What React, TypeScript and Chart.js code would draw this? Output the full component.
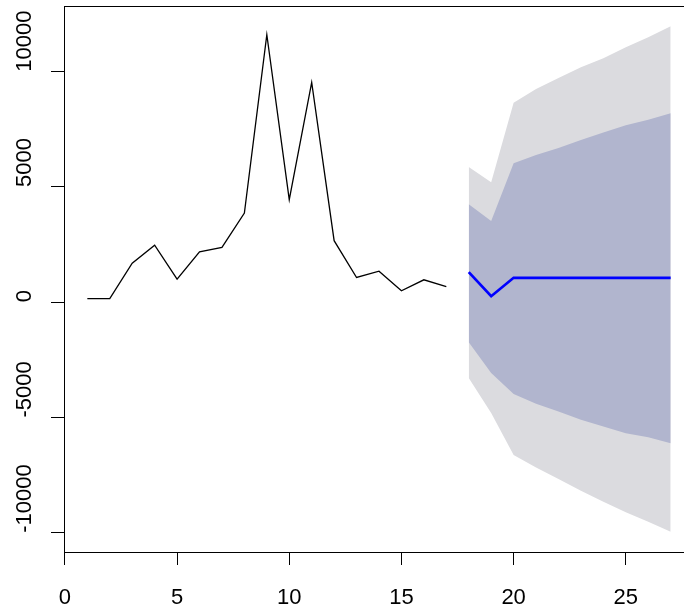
import React, { useEffect, useRef } from "react";
import { Chart, registerables } from "chart.js";

Chart.register(...registerables);

const historyX = [1, 2, 3, 4, 5, 6, 7, 8, 9, 10, 11, 12, 13, 14, 15, 16, 17];
const historyValues = [161, 161, 1696, 2478, 1000, 2191, 2378, 3870, 11609, 4452, 9539, 2670, 1074, 1348, 496, 974, 683];
const forecastX = [18, 19, 20, 21, 22, 23, 24, 25, 26, 27];
const forecastMean = [1304, 261, 1061, 1061, 1061, 1061, 1061, 1061, 1061, 1061];
const upper80 = [4248, 3522, 6030, 6391, 6696, 7043, 7365, 7683, 7913, 8204];
const lower80 = [-1739, -3070, -3983, -4404, -4739, -5100, -5391, -5678, -5852, -6113];
const upper95 = [5870, 5204, 8652, 9248, 9726, 10191, 10583, 11061, 11496, 11974];
const lower95 = [-3287, -4809, -6622, -7174, -7665, -8174, -8652, -9113, -9522, -9957];
const xTicks = [0, 5, 10, 15, 20, 25];
const yTicks = [-10000, -5000, 0, 5000, 10000];
const yTickLabels = ["-10000", "-5000", "0", "5000", "10000"];

const FONT = "'Liberation Sans', Arial, sans-serif";

function pts(xs: number[], ys: number[]) {
  return xs.map((x, i) => ({ x, y: ys[i] }));
}

export default function App() {
  const ref = useRef<HTMLCanvasElement | null>(null);

  useEffect(() => {
    document.body.style.margin = "0";
    document.body.style.overflow = "hidden";
    const canvas = ref.current;
    if (!canvas) return;

    const allX = [...historyX, ...forecastX];
    const allY = [...historyValues, ...upper95, ...lower95, ...forecastMean];
    const xMinD = Math.min(...allX), xMaxD = Math.max(...allX);
    const yMinD = Math.min(...allY), yMaxD = Math.max(...allY);
    const xPad = (xMaxD - xMinD) * 0.04;
    const yPad = (yMaxD - yMinD) * 0.04;

    const boxPlugin = {
      id: "boxAndLabels",
      afterDraw(chart: any) {
        const { ctx, chartArea } = chart;
        ctx.save();
        ctx.strokeStyle = "#000";
        ctx.lineWidth = 1;
        ctx.strokeRect(chartArea.left + 0.5, chartArea.top + 0.5, chartArea.right - chartArea.left, chartArea.bottom - chartArea.top);
        const ys = chart.scales.y;
        ctx.fillStyle = "#000";
        ctx.font = `22px ${FONT}`;
        ctx.textAlign = "left";
        ctx.textBaseline = "middle";
        yTicks.forEach((v, i) => {
          const py = ys.getPixelForValue(v);
          ctx.save();
          ctx.translate(25, py);
          ctx.rotate(-Math.PI / 2);
          ctx.fillText(yTickLabels[i], 0, 0);
          ctx.restore();
        });
        ctx.restore();
      },
    };

    const chart = new Chart(canvas, {
      type: "line",
      data: {
        datasets: [
          {
            label: "history",
            data: pts(historyX, historyValues),
            borderColor: "#000000",
            borderWidth: 1.3,
            pointRadius: 0,
            fill: false,
            order: 0,
          },
          {
            label: "mean",
            data: pts(forecastX, forecastMean),
            borderColor: "#0000FF",
            borderWidth: 2.7,
            pointRadius: 0,
            fill: false,
            order: 1,
          },
          {
            label: "lower80",
            data: pts(forecastX, lower80),
            borderWidth: 0,
            borderColor: "rgba(0,0,0,0)",
            pointRadius: 0,
            fill: false,
            order: 3,
          },
          {
            label: "upper80",
            data: pts(forecastX, upper80),
            borderWidth: 0,
            borderColor: "rgba(0,0,0,0)",
            backgroundColor: "#B1B5CE",
            pointRadius: 0,
            fill: "-1",
            order: 2,
          },
          {
            label: "lower95",
            data: pts(forecastX, lower95),
            borderWidth: 0,
            borderColor: "rgba(0,0,0,0)",
            pointRadius: 0,
            fill: false,
            order: 5,
          },
          {
            label: "upper95",
            data: pts(forecastX, upper95),
            borderWidth: 0,
            borderColor: "rgba(0,0,0,0)",
            backgroundColor: "#DBDBDF",
            pointRadius: 0,
            fill: "-1",
            order: 4,
          },
        ],
      },
      options: {
        animation: false,
        responsive: false,
        maintainAspectRatio: false,
        layout: { padding: { left: 0, top: 6, right: 26, bottom: 0 } },
        plugins: { legend: { display: false }, tooltip: { enabled: false } },
        elements: { line: { tension: 0 } },
        scales: {
          x: {
            type: "linear",
            min: xMinD - xPad,
            max: xMaxD + xPad,
            afterBuildTicks: (s: any) => {
              s.ticks = xTicks.map((v) => ({ value: v }));
            },
            afterFit: (s: any) => {
              s.height = 58;
            },
            grid: { display: true, drawOnChartArea: false, drawTicks: true, tickLength: 13, color: "#000", lineWidth: 1 },
            border: { display: true, color: "#000", width: 1 },
            ticks: {
              autoSkip: false,
              maxRotation: 0,
              minRotation: 0,
              padding: 20,
              color: "#000",
              font: { family: FONT, size: 22 },
              callback: (v: any) => String(v),
            },
          },
          y: {
            type: "linear",
            min: yMinD - yPad,
            max: yMaxD + yPad,
            afterBuildTicks: (s: any) => {
              s.ticks = yTicks.map((v) => ({ value: v }));
            },
            afterFit: (s: any) => {
              s.width = 64;
            },
            grid: { display: true, drawOnChartArea: false, drawTicks: true, tickLength: 13, color: "#000", lineWidth: 1 },
            border: { display: true, color: "#000", width: 1 },
            ticks: { display: false },
          },
        },
      },
      plugins: [boxPlugin],
    } as any);

    return () => chart.destroy();
  }, []);

  return (
    <div style={{ position: "fixed", left: 0, top: 0, width: 720, height: 610, background: "#fff" }}>
      <canvas ref={ref} width={720} height={610} style={{ display: "block" }} />
    </div>
  );
}
